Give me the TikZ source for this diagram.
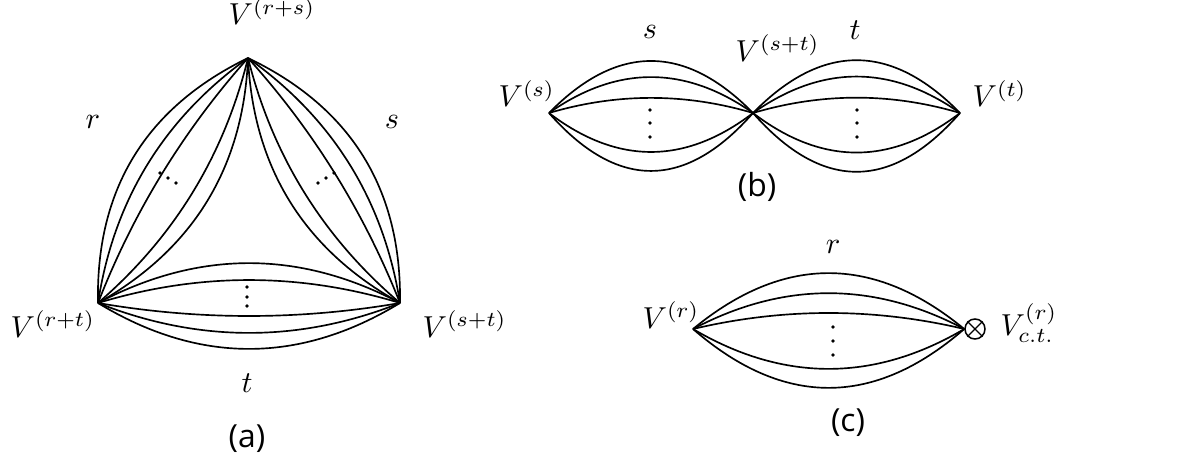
\documentclass[tikz,border=0pt]{standalone}
\usepackage{fontspec}
\newfontfamily\capfont{Open Sans}
\usetikzlibrary{calc}
\tikzset{
  edge/.style={line width=0.55pt},
  vlabel/.style={anchor=base west, inner sep=0pt},
  letter/.style={inner sep=0pt},
  caption/.style={inner sep=0pt, font=\capfont\fontsize{10.5}{12}\selectfont},
  dotmark/.style={fill=black},
}
% #1 start, #2 end, #3 sag/chord ratio (positive: bulge to the left of travel)
\newcommand\lensarc[3]{\draw[edge] (#1) .. controls ($(#1)!1/3!(#2)!{2*(#3)}!90:(#2)$) and ($(#1)!2/3!(#2)!{4*(#3)}!90:(#2)$) .. (#2);}
\newcommand\tridot[1]{\fill[dotmark] (#1) circle (0.6pt);}
\newcommand\lensdot[1]{\fill[dotmark] (#1) circle (0.65pt);}
\begin{document}
\begin{tikzpicture}[x=0.33pt,y=0.33pt]
\useasboundingbox (0,0) rectangle (1193,456);
% ---------- (a) ----------
\coordinate (T) at (248,398);
\coordinate (BL) at (98,153);
\coordinate (BR) at (400,153);
\foreach \r in {0.160,0.105,0.045,-0.080,-0.139}{\lensarc{BL}{T}{\r}}
\foreach \r in {0.160,0.105,0.045,-0.080,-0.139}{\lensarc{T}{BR}{\r}}
\foreach \r in {0.152,0.099,0.043,-0.076,-0.132}{\lensarc{BR}{BL}{\r}}
\tridot{160,283}\tridot{168,278}\tridot{176,273}
\tridot{318,273}\tridot{326,278}\tridot{334,283}
\tridot{247,169}\tridot{247,159}\tridot{247,150}
\node[vlabel] (lT) at (228,431) {$V^{(r+s)}$};
\node[vlabel] (lBL) at (10,119) {$V^{(r+t)}$};
\node[vlabel] (lBR) at (422,119) {$V^{(s+t)}$};
\node[letter] (la) at (93,334) {$r$};
\node[letter] (lb) at (392,334) {$s$};
\node[letter] (lc) at (247,73) {$t$};
\node[caption] (capa) at (247,17) {(a)};
% ---------- (b) ----------
\coordinate (S) at (549,343);
\coordinate (M) at (753,343);
\coordinate (U) at (960,343);
\foreach \r in {0.255,0.176,0.074,-0.191,-0.284}{\lensarc{S}{M}{\r}}
\foreach \r in {0.255,0.176,0.074,-0.191,-0.284}{\lensarc{M}{U}{\r}}
\lensdot{650,346}\lensdot{650,333}\lensdot{650,319}
\lensdot{857,346}\lensdot{857,333}\lensdot{857,319}
\node[vlabel] (lS) at (498,349) {$V^{(s)}$};
\node[vlabel] (lM) at (735,394) {$V^{(s+t)}$};
\node[vlabel] (lU) at (972,349) {$V^{(t)}$};
\node[letter] (ls) at (650,424) {$s$};
\node[letter] (lt) at (855,426) {$t$};
\node[caption] (capb) at (757,269) {(b)};
% ---------- (c) ----------
\coordinate (R) at (693,127);
\node[circle, draw, line width=0.5pt, inner sep=0pt, minimum size=6.6pt] (ct) at (975,127) {};
\draw[line width=0.4pt] (ct.north west) -- (ct.south east);
\draw[line width=0.4pt] (ct.north east) -- (ct.south west);
\foreach \r in {0.206,0.132,0.059,-0.147,-0.217}{\lensarc{R}{ct.west}{\r}}
\lensdot{833,129}\lensdot{833,115}\lensdot{833,101}
\node[vlabel] (lR) at (642,128) {$V^{(r)}$};
\node[vlabel] (lct) at (1000,121) {$V^{(r)}_{c.t.}$};
\node[letter] (lr) at (833,209) {$r$};
\node[caption] (capc) at (848,33) {(c)};
\end{tikzpicture}
\end{document}
